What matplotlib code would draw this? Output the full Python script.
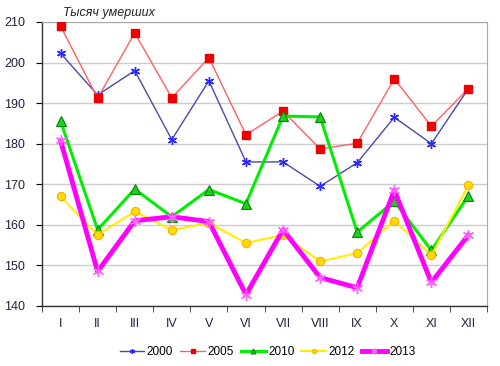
import matplotlib
matplotlib.use("Agg")
import matplotlib.pyplot as plt
from matplotlib.ticker import FixedLocator, NullFormatter

plt.rcParams['font.family'] = ['Liberation Sans', 'DejaVu Sans']

months = ['I', 'II', 'III', 'IV', 'V', 'VI', 'VII', 'VIII', 'IX', 'X', 'XI', 'XII']
y2000 = [202.3, 192.0, 198.0, 181.0, 195.5, 175.5, 175.5, 169.5, 175.3, 186.5, 180.0, 193.6]
y2005 = [209.0, 191.2, 207.3, 191.3, 201.2, 182.2, 188.0, 178.7, 180.1, 196.0, 184.3, 193.6]
y2010 = [185.6, 158.8, 168.8, 162.0, 168.7, 165.2, 186.8, 186.6, 158.2, 165.8, 153.7, 167.2]
y2012 = [167.0, 157.5, 163.3, 158.7, 160.5, 155.5, 157.5, 151.0, 153.0, 161.0, 152.5, 169.7]
y2013 = [180.8, 148.5, 161.0, 162.0, 160.8, 142.8, 158.8, 147.0, 144.5, 168.5, 145.8, 157.5]

fig = plt.figure(figsize=(5.0, 3.66), dpi=100)
ax = fig.add_axes([0.084, 0.164, 0.89, 0.776])
x = list(range(len(months)))

star = (6, 2, 0)
ax.plot(x, y2000, color='#4a4aa8', lw=1.0, marker=star, ms=6.5, mec='#2a2aff', mew=1.0, label='2000', zorder=3)
ax.plot(x, y2005, color='#ff6060', lw=1.0, marker='s', ms=6, mfc='#ee0000', mec='#ee0000', label='2005', zorder=4)
ax.plot(x, y2010, color='#00ee00', lw=2.2, marker='^', ms=7, mfc='#22cc22', mec='#008800', mew=0.8, label='2010', zorder=5)
ax.plot(x, y2012, color='#ffee00', lw=1.5, marker='o', ms=6, mfc='#ffdd00', mec='#ffaa00', mew=0.8, label='2012', zorder=5)
ax.plot(x, y2013, color='#ff00ff', lw=3.5, marker=star, ms=8, mec='#ff66ff', mew=1.0, label='2013', zorder=6)

ax.set_xlim(-0.5, 11.5)
ax.set_ylim(140, 210)
ax.set_yticks(range(140, 211, 10))
ax.yaxis.grid(True, color='#cccccc', lw=1.0)
ax.set_axisbelow(True)
ax.set_xticks(x)
ax.set_xticklabels(months)
ax.xaxis.set_minor_locator(FixedLocator([i + 0.5 for i in range(-1, 12)]))
ax.xaxis.set_minor_formatter(NullFormatter())
ax.tick_params(axis='x', which='major', length=0, pad=9, labelsize=9)
ax.tick_params(axis='x', which='minor', length=4, direction='out', color='#333333')
ax.tick_params(axis='y', length=4, direction='out', labelsize=9, pad=8)
for t in ax.get_xticklabels() + ax.get_yticklabels():
    t.set_color('#222244')

ax.spines['left'].set_color('#333333')
ax.spines['bottom'].set_color('#333333')
ax.spines['left'].set_linewidth(1.0)
ax.spines['bottom'].set_linewidth(1.0)
ax.spines['top'].set_color('#aaaaaa')
ax.spines['right'].set_color('#aaaaaa')

fig.text(0.126, 0.948, 'Тысяч умерших', fontsize=9, style='italic', color='#222222', ha='left', va='bottom')

leg = fig.legend(loc='center', bbox_to_anchor=(0.535, 0.037), ncol=5, frameon=False,
                 fontsize=8.5, handlelength=2.1, columnspacing=0.6, handletextpad=0.2,
                 markerscale=0.5)

fig.savefig('out.png', dpi=100)
